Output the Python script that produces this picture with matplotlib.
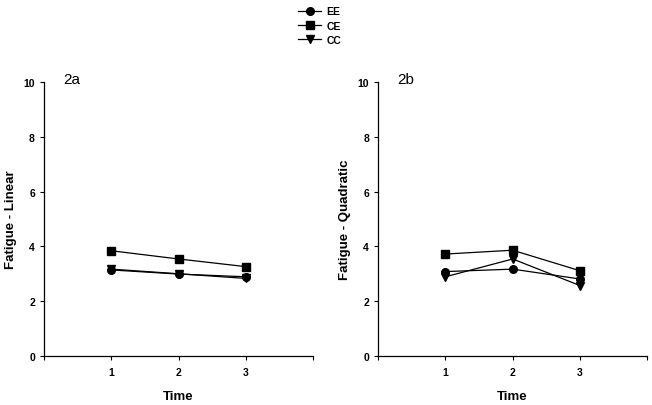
import numpy as np
import matplotlib.pyplot as plt
from matplotlib.lines import Line2D

plt.rcParams["font.family"] = ["Liberation Sans", "DejaVu Sans"]

times = [1, 2, 3]
groups = ["EE", "CE", "CC"]
markers = {"EE": "o", "CE": "s", "CC": "v"}

# panel 2a - linear
linear_ee = [3.14, 2.99, 2.89]
linear_ce = [3.84, 3.54, 3.26]
linear_cc = [3.17, 3.00, 2.83]

# panel 2b - quadratic
quad_ee = [3.08, 3.17, 2.81]
quad_ce = [3.72, 3.86, 3.11]
quad_cc = [2.89, 3.54, 2.57]

panels = [
    ("2a", "Fatigue - Linear", {"EE": linear_ee, "CE": linear_ce, "CC": linear_cc}),
    ("2b", "Fatigue - Quadratic", {"EE": quad_ee, "CE": quad_ce, "CC": quad_cc}),
]

fig = plt.figure(figsize=(6.52, 4.06), dpi=100)
lefts = [0.0675, 0.5798]
width = 0.413
bottom = 0.1207
height = 0.675

for left, (tag, ylabel, data) in zip(lefts, panels):
    ax = fig.add_axes([left, bottom, width, height])
    for g in groups:
        ax.plot(times, data[g], color="black", lw=0.9, marker=markers[g],
                markersize=5.5)
    ax.set_xlim(0, 4)
    ax.set_ylim(0, 10)
    ax.set_xticks([0, 1, 2, 3, 4])
    ax.set_xticklabels(["", "1", "2", "3", ""])
    ax.set_yticks([0, 2, 4, 6, 8, 10])
    ax.spines["top"].set_visible(False)
    ax.spines["right"].set_visible(False)
    ax.spines["left"].set_linewidth(0.9)
    ax.spines["bottom"].set_linewidth(0.9)
    ax.tick_params(direction="out", length=3, width=0.8, labelsize=7.5, pad=3.5)
    ax.tick_params(axis="x", pad=5)
    for lab in ax.get_xticklabels() + ax.get_yticklabels():
        lab.set_fontweight("bold")
    ax.set_xlabel("Time", fontsize=9.5, fontweight="bold")
    ax.xaxis.set_label_coords(0.5, -0.125)
    ax.set_ylabel(ylabel, fontsize=9.5, fontweight="bold")
    ax.yaxis.set_label_coords(-0.1, 0.5)
    ax.text(0.07, 1.01, tag, transform=ax.transAxes, fontsize=11,
            ha="left", va="center")

handles = [Line2D([0], [0], color="black", lw=0.9, marker=markers[g],
                  markersize=5.5) for g in groups]
leg = fig.legend(handles, groups, loc="upper center", bbox_to_anchor=(0.49, 1.005),
                 frameon=False, fontsize=7.5, handlelength=2.3,
                 labelspacing=0.4, handletextpad=0.5)
for t in leg.get_texts():
    t.set_fontweight("bold")

fig.savefig("out.png", dpi=100)
